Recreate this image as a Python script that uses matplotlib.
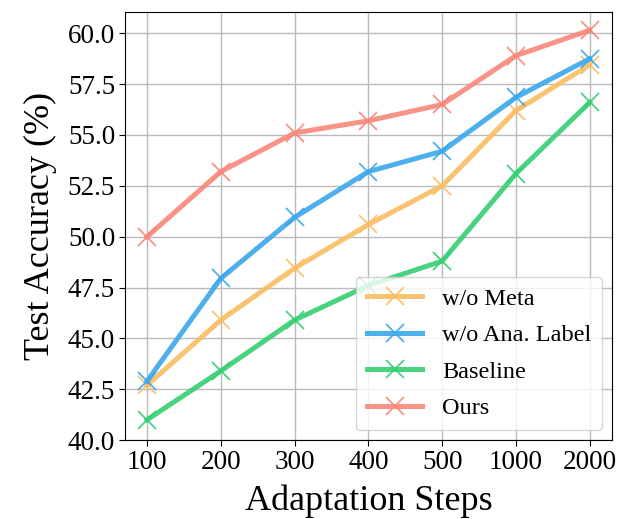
import matplotlib
matplotlib.use("Agg")
import matplotlib.pyplot as plt

steps = ["100", "200", "300", "400", "500", "1000", "2000"]
wo_meta = [42.7, 45.9, 48.45, 50.6, 52.5, 56.2, 58.45]
wo_ana = [42.9, 47.95, 50.95, 53.2, 54.2, 56.85, 58.75]
baseline = [41.0, 43.4, 45.9, 47.6, 48.8, 53.1, 56.6]
ours = [50.0, 53.2, 55.1, 55.7, 56.5, 58.9, 60.15]

series = [("w/o Meta", wo_meta, "#F9BE62"),
          ("w/o Ana. Label", wo_ana, "#3AA8EC"),
          ("Baseline", baseline, "#35CF72"),
          ("Ours", ours, "#F9867A")]

plt.rcParams['font.family'] = ['Liberation Serif', 'DejaVu Serif']
plt.rcParams['mathtext.fontset'] = 'stix'

fig = plt.figure(figsize=(6.34, 5.19), dpi=100)
ax = fig.add_axes([0.197, 0.152, 0.768, 0.825])
x = list(range(len(steps)))
for name, vals, c in series:
    ax.plot(x, vals, color=c, lw=3.6, marker='x', markersize=13, mew=1.3,
            label=name, alpha=0.9)

ax.set_xticks(x)
ax.set_xticklabels(steps)
ax.set_xlim(-0.3, 6.3)
ax.set_ylim(40, 61.05)
ax.set_yticks([40 + 2.5 * i for i in range(9)])
ax.set_yticklabels(["%.1f" % (40 + 2.5 * i) for i in range(9)])
ax.tick_params(labelsize=19.5, length=4, pad=3)
ax.grid(True, color="#bbbbbb", lw=1.0)
ax.set_axisbelow(True)
ax.set_xlabel("Adaptation Steps", fontsize=26, labelpad=7)
ax.set_ylabel("Test Accuracy (%)", fontsize=26, labelpad=8)
ax.legend(loc="lower right", fontsize=17.5, framealpha=0.8, handlelength=2.3,
          borderpad=0.45, labelspacing=0.6, borderaxespad=0.4, handletextpad=0.8)
fig.savefig("out.png", dpi=100)
